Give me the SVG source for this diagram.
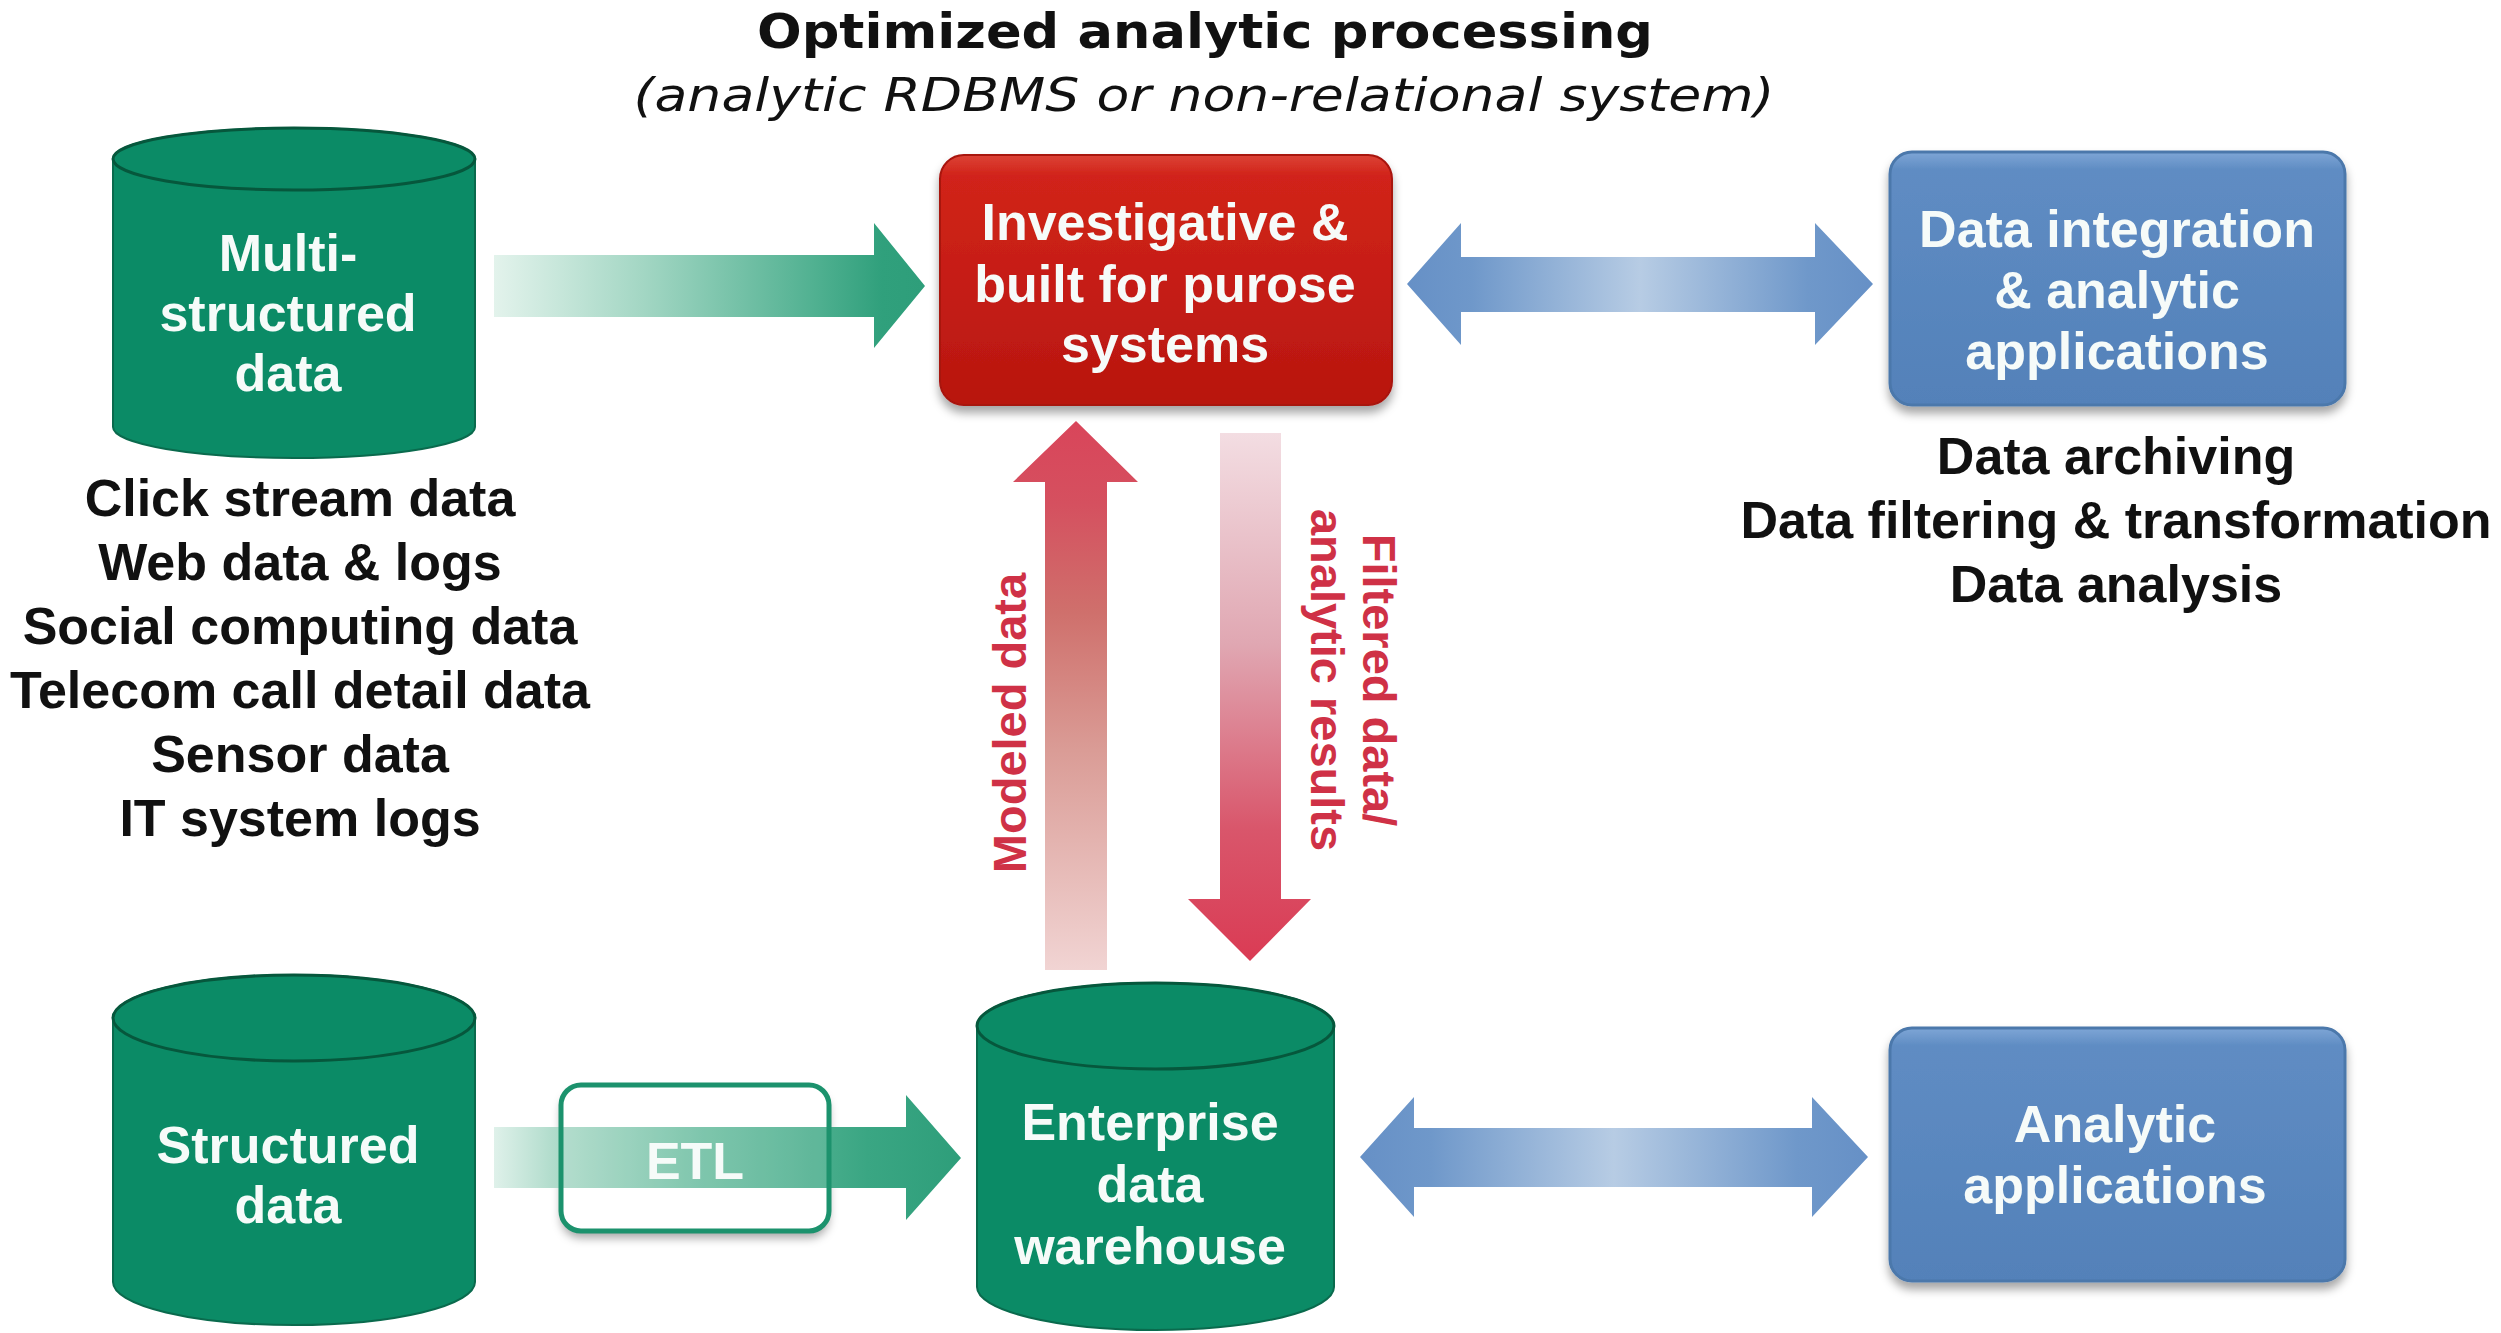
<svg xmlns="http://www.w3.org/2000/svg" width="2501" height="1333" viewBox="0 0 2501 1333">
  <defs>
    <style>
      .title { font-family: "DejaVu Sans", Verdana, sans-serif; font-weight: bold; font-size: 48px; fill: #111; text-anchor: middle; }
      .subtitle { font-family: "DejaVu Sans", Verdana, sans-serif; font-style: italic; font-size: 46px; fill: #111; text-anchor: middle; }
      .node-text { font-family: "Liberation Sans", Arial, sans-serif; font-weight: bold; font-size: 52px; fill: #f6fbf9; text-anchor: middle; }
      .list { font-family: "Liberation Sans", Arial, sans-serif; font-weight: bold; font-size: 52px; fill: #111; text-anchor: middle; }
      .flow-label { font-family: "Liberation Sans", Arial, sans-serif; font-weight: bold; font-size: 47px; fill: #cf3146; text-anchor: middle; }
      .cyl-body { fill: #0b8b66; stroke: #0a6a4d; stroke-width: 2; }
      .cyl-top { fill: #0b8b66; stroke: #06573c; stroke-width: 3; }
      .blue-box { fill: url(#blueBox); stroke: #4c78ab; stroke-width: 3; }
      .red-box { fill: url(#redBox); stroke: #a8120c; stroke-width: 2; }
    </style>
    <filter id="shadow" x="-10%" y="-10%" width="120%" height="130%">
      <feDropShadow dx="0" dy="7" stdDeviation="5" flood-color="#000" flood-opacity="0.35"/>
    </filter>
    <linearGradient id="redBox" x1="0" y1="0" x2="0" y2="1">
      <stop offset="0" stop-color="#dc4236"/>
      <stop offset="0.08" stop-color="#d1241a"/>
      <stop offset="1" stop-color="#b8160f"/>
    </linearGradient>
    <linearGradient id="blueBox" x1="0" y1="0" x2="0" y2="1">
      <stop offset="0" stop-color="#7ea6d6"/>
      <stop offset="0.07" stop-color="#5f8cc3"/>
      <stop offset="1" stop-color="#5381b9"/>
    </linearGradient>
    <linearGradient id="greenFlow" x1="0" y1="0" x2="1" y2="0">
      <stop offset="0" stop-color="#e3f3ec"/>
      <stop offset="0.35" stop-color="#a2d6c3"/>
      <stop offset="0.75" stop-color="#4fb090"/>
      <stop offset="0.9" stop-color="#30a07c"/>
      <stop offset="1" stop-color="#2e9e7a"/>
    </linearGradient>
    <linearGradient id="greenFlowEtl" x1="0" y1="0" x2="1" y2="0">
      <stop offset="0" stop-color="#dff1ea"/>
      <stop offset="0.15" stop-color="#a8d8c6"/>
      <stop offset="0.45" stop-color="#6cbea1"/>
      <stop offset="0.8" stop-color="#3aa683"/>
      <stop offset="1" stop-color="#2e9e7a"/>
    </linearGradient>
    <linearGradient id="blueFlow" x1="0" y1="0" x2="1" y2="0">
      <stop offset="0" stop-color="#6690c6"/>
      <stop offset="0.14" stop-color="#6f98ca"/>
      <stop offset="0.5" stop-color="#b7cce4"/>
      <stop offset="0.86" stop-color="#6f98ca"/>
      <stop offset="1" stop-color="#6690c6"/>
    </linearGradient>
    <linearGradient id="redUp" gradientUnits="userSpaceOnUse" x1="0" y1="970" x2="0" y2="421">
      <stop offset="0" stop-color="#f1d4d3"/>
      <stop offset="0.4" stop-color="#da9c96"/>
      <stop offset="0.65" stop-color="#cf706c"/>
      <stop offset="0.85" stop-color="#d5505f"/>
      <stop offset="1" stop-color="#d9455a"/>
    </linearGradient>
    <linearGradient id="redDown" gradientUnits="userSpaceOnUse" x1="0" y1="433" x2="0" y2="961">
      <stop offset="0" stop-color="#f3dde2"/>
      <stop offset="0.4" stop-color="#e0a7b2"/>
      <stop offset="0.75" stop-color="#d9566b"/>
      <stop offset="1" stop-color="#da3b54"/>
    </linearGradient>
  </defs>

  <rect x="0" y="0" width="2501" height="1333" fill="#ffffff"/>

  <!-- heading -->
  <g id="heading">
    <text class="title" x="1205" y="48" textLength="896" lengthAdjust="spacingAndGlyphs">Optimized analytic processing</text>
    <text class="subtitle" x="1204" y="111" textLength="1141" lengthAdjust="spacingAndGlyphs">(analytic RDBMS or non-relational system)</text>
  </g>

  <!-- white card under the ETL step, drawn beneath the flow band -->
  <g id="etl-card">
    <rect x="561" y="1085" width="268" height="146" rx="20" fill="#ffffff" filter="url(#shadow)"/>
  </g>

  <!-- connectors -->
  <g id="connectors">
    <!-- multi-structured data -> investigative systems -->
    <polygon points="494,255 874,255 874,223 925,286 874,348 874,317 494,317" fill="url(#greenFlow)"/>
    <!-- investigative systems <-> data integration -->
    <polygon points="1407,284 1461,223 1461,257 1815,257 1815,223 1873,284 1815,345 1815,312 1461,312 1461,345" fill="url(#blueFlow)"/>
    <!-- structured data -> EDW (through ETL) -->
    <polygon points="494,1127 906,1127 906,1095 961,1158 906,1220 906,1188 494,1188" fill="url(#greenFlowEtl)"/>
    <!-- EDW <-> analytic applications -->
    <polygon points="1360,1157 1414,1097 1414,1128 1812,1128 1812,1097 1868,1157 1812,1217 1812,1187 1414,1187 1414,1217" fill="url(#blueFlow)"/>
    <!-- EDW -> investigative systems -->
    <polygon points="1076,421 1138,482 1107,482 1107,970 1045,970 1045,482 1013,482" fill="url(#redUp)"/>
    <!-- investigative systems -> EDW -->
    <polygon points="1220,433 1281,433 1281,899 1311,899 1250,961 1188,899 1220,899" fill="url(#redDown)"/>
    <text class="flow-label" transform="translate(1026,723) rotate(-90)">Modeled data</text>
    <text class="flow-label" transform="translate(1363,680) rotate(90)">Filtered data/</text>
    <text class="flow-label" transform="translate(1311,680) rotate(90)">analytic results</text>
  </g>

  <!-- multi-structured data store -->
  <g id="multi-structured">
    <path class="cyl-body" d="M113,159 A181,31 0 0 1 475,159 L475,427 A181,31 0 0 1 113,427 Z"/>
    <ellipse class="cyl-top" cx="294" cy="159" rx="181" ry="31"/>
    <text class="node-text" x="288" y="271">Multi-</text>
    <text class="node-text" x="288" y="331">structured</text>
    <text class="node-text" x="288" y="391">data</text>
  </g>

  <g id="multi-sources">
    <text class="list" x="300" y="516">Click stream data</text>
    <text class="list" x="300" y="580">Web data &amp; logs</text>
    <text class="list" x="300" y="644">Social computing data</text>
    <text class="list" x="300" y="708">Telecom call detail data</text>
    <text class="list" x="300" y="772">Sensor data</text>
    <text class="list" x="300" y="836">IT system logs</text>
  </g>

  <!-- investigative & purpose-built systems -->
  <g id="investigative">
    <rect class="red-box" x="940" y="155" width="452" height="250" rx="24" filter="url(#shadow)"/>
    <text class="node-text" x="1165" y="240">Investigative &amp;</text>
    <text class="node-text" x="1165" y="302">built for purose</text>
    <text class="node-text" x="1165" y="362">systems</text>
  </g>

  <!-- data integration & analytic applications -->
  <g id="data-integration">
    <rect class="blue-box" x="1890" y="152" width="455" height="253" rx="22" filter="url(#shadow)"/>
    <text class="node-text" x="2117" y="247">Data integration</text>
    <text class="node-text" x="2117" y="308">&amp; analytic</text>
    <text class="node-text" x="2117" y="369">applications</text>
  </g>

  <g id="integration-tasks">
    <text class="list" x="2116" y="474">Data archiving</text>
    <text class="list" x="2116" y="538">Data filtering &amp; transformation</text>
    <text class="list" x="2116" y="602">Data analysis</text>
  </g>

  <!-- structured data store -->
  <g id="structured">
    <path class="cyl-body" d="M113,1018 A181,43 0 0 1 475,1018 L475,1282 A181,43 0 0 1 113,1282 Z"/>
    <ellipse class="cyl-top" cx="294" cy="1018" rx="181" ry="43"/>
    <text class="node-text" x="288" y="1163">Structured</text>
    <text class="node-text" x="288" y="1223">data</text>
  </g>

  <!-- ETL step on the structured flow -->
  <g id="etl">
    <rect x="561" y="1085" width="268" height="146" rx="20" fill="#ffffff" fill-opacity="0.12" stroke="#1c926d" stroke-width="5"/>
    <text class="node-text" x="695" y="1179" fill="#ffffff">ETL</text>
  </g>

  <!-- enterprise data warehouse -->
  <g id="edw">
    <path class="cyl-body" d="M977,1026 A178.5,43 0 0 1 1334,1026 L1334,1287 A178.5,43 0 0 1 977,1287 Z"/>
    <ellipse class="cyl-top" cx="1155.5" cy="1026" rx="178.5" ry="43"/>
    <text class="node-text" x="1150" y="1140">Enterprise</text>
    <text class="node-text" x="1150" y="1202">data</text>
    <text class="node-text" x="1150" y="1264">warehouse</text>
  </g>

  <!-- analytic applications -->
  <g id="analytic-apps">
    <rect class="blue-box" x="1890" y="1028" width="455" height="253" rx="22" filter="url(#shadow)"/>
    <text class="node-text" x="2115" y="1142">Analytic</text>
    <text class="node-text" x="2115" y="1203">applications</text>
  </g>
</svg>
